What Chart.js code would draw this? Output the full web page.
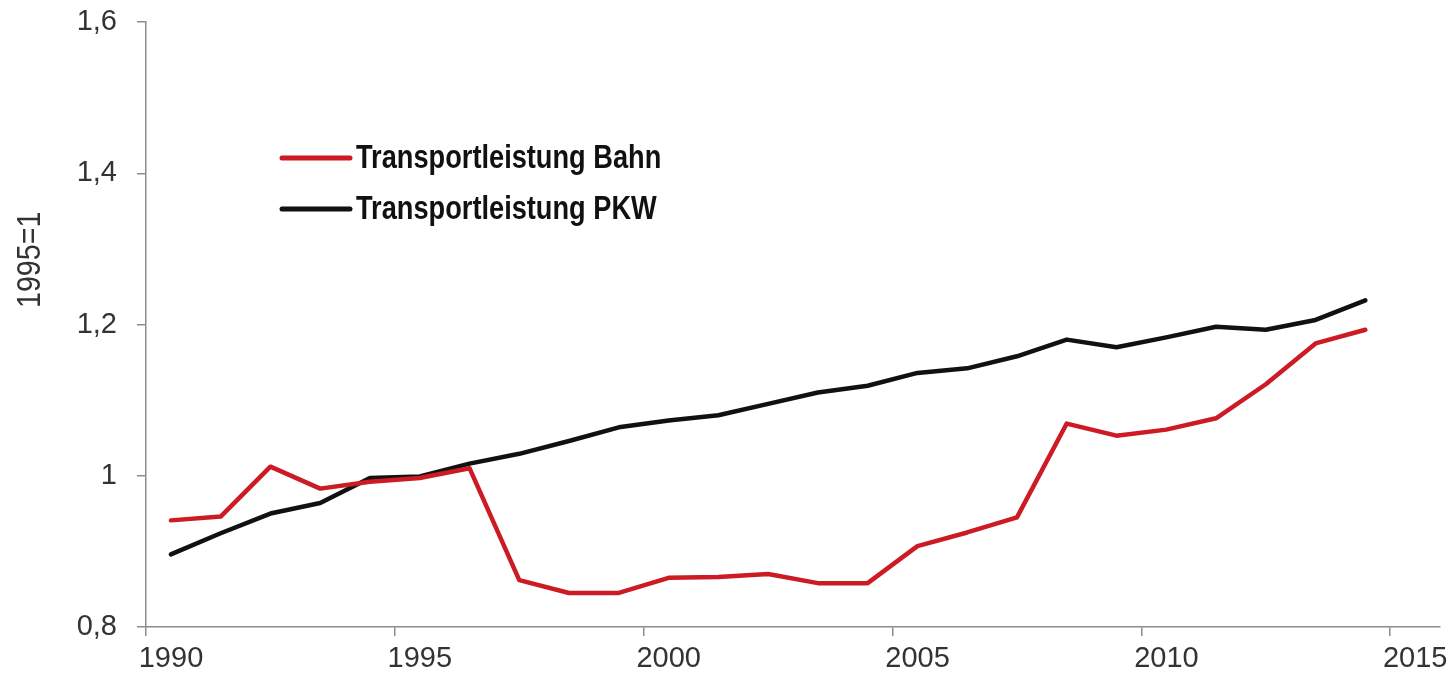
<!DOCTYPE html>
<html>
<head>
<meta charset="utf-8">
<script src="https://cdn.jsdelivr.net/npm/chart.js@4/dist/chart.umd.min.js"></script>
<style>
  html, body { margin: 0; padding: 0; background: #fff; }
  #wrap { width: 1456px; height: 682px; }
</style>
</head>
<body>
<div id="wrap"><canvas id="transportChart" width="1456" height="682"></canvas></div>
<script>
// years (points sit at mid-year)
const years = [1990, 1991, 1992, 1993, 1994, 1995, 1996, 1997, 1998, 1999,
               2000, 2001, 2002, 2003, 2004, 2005, 2006, 2007, 2008, 2009,
               2010, 2011, 2012, 2013, 2014];

// Transportleistung Bahn (1995=1)
const bahn = [0.941, 0.946, 1.012, 0.983, 0.992, 0.997, 1.010, 0.862, 0.845, 0.845,
              0.865, 0.866, 0.870, 0.858, 0.858, 0.907, 0.925, 0.945, 1.069, 1.053,
              1.061, 1.076, 1.121, 1.175, 1.193];

// Transportleistung PKW (1995=1)
const pkw = [0.896, 0.924, 0.950, 0.964, 0.997, 0.999, 1.016, 1.029, 1.046, 1.064,
             1.073, 1.080, 1.095, 1.110, 1.119, 1.136, 1.142, 1.158, 1.180, 1.170,
             1.183, 1.197, 1.193, 1.206, 1.232];

const xTicks = [1990, 1995, 2000, 2005, 2010, 2015];
const yTicks = [0.8, 1.0, 1.2, 1.4, 1.6];

const seriesLabels = ['Transportleistung Bahn', 'Transportleistung PKW'];
const seriesColors = ['#cc1b24', '#111111'];

const axisColor = '#8c8c8c';
const textColor = '#333333';

function toPoints(values) {
    return values.map((v, i) => ({ x: years[i] + 0.5, y: v }));
}

// legend drawn inside the plot, top left
const innerLegend = {
    id: 'innerLegend',
    afterDraw(chart) {
        const ctx = chart.ctx;
        const area = chart.chartArea;
        const x0 = area.left + 136;
        const y0 = area.top + 136;
        ctx.save();
        chart.data.datasets.forEach((ds, i) => {
            const y = y0 + i * 51;
            ctx.strokeStyle = ds.borderColor;
            ctx.lineWidth = 5;
            ctx.lineCap = 'round';
            ctx.beginPath();
            ctx.moveTo(x0, y);
            ctx.lineTo(x0 + 68, y);
            ctx.stroke();

            ctx.save();
            ctx.translate(x0 + 74, y + 1);
            ctx.scale(0.8, 1);
            ctx.fillStyle = '#111';
            ctx.font = 'bold 34px "Liberation Sans", Arial, sans-serif';
            ctx.textBaseline = 'middle';
            ctx.fillText(ds.label, 0, 0);
            ctx.restore();
        });
        ctx.restore();
    }
};

// rotated y-axis title, sits above the axis middle
const yTitle = {
    id: 'yTitle',
    afterDraw(chart) {
        const ctx = chart.ctx;
        const area = chart.chartArea;
        ctx.save();
        ctx.translate(31, area.top + (area.bottom - area.top) * 0.393);
        ctx.rotate(-Math.PI / 2);
        ctx.scale(0.87, 1);
        ctx.fillStyle = textColor;
        ctx.font = '33px "Liberation Sans", Arial, sans-serif';
        ctx.textAlign = 'center';
        ctx.textBaseline = 'middle';
        ctx.fillText('1995=1', 0, 0);
        ctx.restore();
    }
};

const ctx = document.getElementById('transportChart');

new Chart(ctx, {
    type: 'line',
    data: {
        datasets: [
            {
                label: seriesLabels[0],
                data: toPoints(bahn),
                borderColor: seriesColors[0],
                borderWidth: 4.5,
                pointRadius: 0,
                tension: 0,
                borderJoinStyle: 'round',
                borderCapStyle: 'round'
            },
            {
                label: seriesLabels[1],
                data: toPoints(pkw),
                borderColor: seriesColors[1],
                borderWidth: 4.5,
                pointRadius: 0,
                tension: 0,
                borderJoinStyle: 'round',
                borderCapStyle: 'round'
            }
        ]
    },
    options: {
        responsive: false,
        animation: false,
        layout: { padding: { top: 22, right: 16, left: 0, bottom: 0 } },
        plugins: {
            legend: { display: false },
            tooltip: { enabled: false }
        },
        scales: {
            x: {
                type: 'linear',
                min: 1990,
                max: 2016,
                afterFit: (scale) => { scale.height = 55; },
                afterBuildTicks: (scale) => {
                    scale.ticks = xTicks.map(v => ({ value: v }));
                },
                border: { display: true, color: axisColor, width: 1.5 },
                grid: {
                    drawOnChartArea: false,
                    drawTicks: true,
                    tickLength: 9,
                    color: axisColor,
                    lineWidth: 1.5
                },
                ticks: {
                    labelOffset: 25,
                    padding: 6,
                    color: textColor,
                    font: { family: '"Liberation Sans", Arial, sans-serif', size: 29 },
                    callback: (v) => String(v)
                }
            },
            y: {
                min: 0.8,
                max: 1.6,
                afterFit: (scale) => {
                    scale.width = 146;
                    scale.paddingTop = 0;
                    scale.paddingBottom = 0;
                },
                afterBuildTicks: (scale) => {
                    scale.ticks = yTicks.map(v => ({ value: v }));
                },
                border: { display: true, color: axisColor, width: 1.5 },
                grid: {
                    drawOnChartArea: false,
                    drawTicks: true,
                    tickLength: 9,
                    color: axisColor,
                    lineWidth: 1.5
                },
                ticks: {
                    padding: 20,
                    color: textColor,
                    font: { family: '"Liberation Sans", Arial, sans-serif', size: 29 },
                    callback: (v) => String(Math.round(v * 10) / 10).replace('.', ',')
                }
            }
        }
    },
    plugins: [innerLegend, yTitle]
});
</script>
</body>
</html>
